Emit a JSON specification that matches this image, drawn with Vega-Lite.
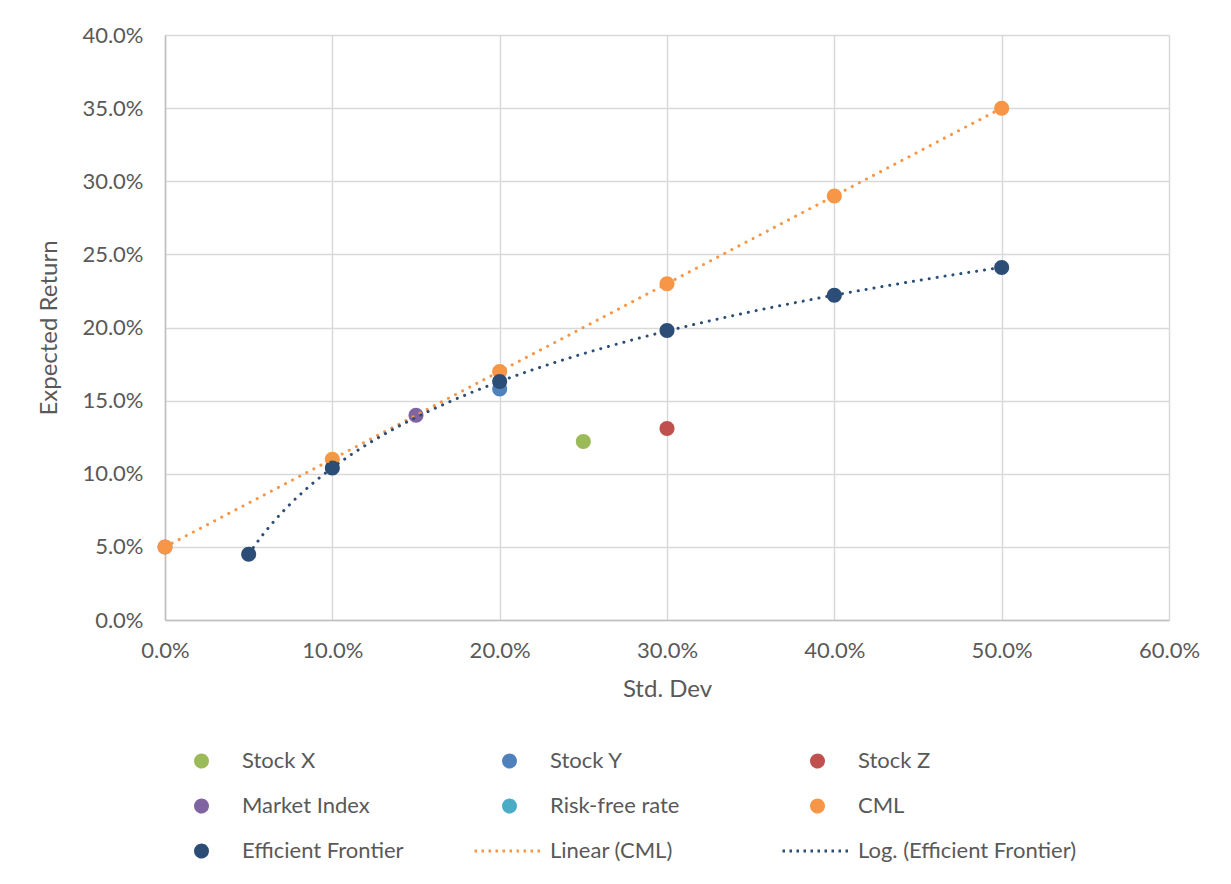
{
  "$schema": "https://vega.github.io/schema/vega-lite/v6.json",
  "autosize": {"type": "none"},
  "padding": {"left": 165, "top": 35, "right": 62, "bottom": 264},
  "width": 1004,
  "height": 585,
  "background": "white",
  "config": {
    "font": "Lato",
    "view": {"stroke": null},
    "axis": {
      "labelFont": "Lato", "labelFontSize": 22, "labelColor": "#595959",
      "titleFont": "Lato", "titleFontSize": 24, "titleColor": "#595959", "titleFontWeight": "normal",
      "gridColor": "#D9D9D9", "gridWidth": 1.5, "ticks": false,
      "domainColor": "#BFBFBF", "domainWidth": 1.5
    },
    "legend": {
      "labelFont": "Lato", "labelFontSize": 22, "labelColor": "#595959", "labelLimit": 500
    }
  },
  "data": {
    "values": [
      {"series": "Stock X", "x": 0.25, "y": 0.122},
      {"series": "Stock Y", "x": 0.20, "y": 0.158},
      {"series": "Stock Z", "x": 0.30, "y": 0.131},
      {"series": "Market Index", "x": 0.15, "y": 0.14},
      {"series": "Risk-free rate", "x": 0.0, "y": 0.05},
      {"series": "CML", "x": 0.0, "y": 0.05},
      {"series": "CML", "x": 0.1, "y": 0.11},
      {"series": "CML", "x": 0.2, "y": 0.17},
      {"series": "CML", "x": 0.3, "y": 0.23},
      {"series": "CML", "x": 0.4, "y": 0.29},
      {"series": "CML", "x": 0.5, "y": 0.35},
      {"series": "Efficient Frontier", "x": 0.05, "y": 0.045},
      {"series": "Efficient Frontier", "x": 0.1, "y": 0.104},
      {"series": "Efficient Frontier", "x": 0.2, "y": 0.163},
      {"series": "Efficient Frontier", "x": 0.3, "y": 0.198},
      {"series": "Efficient Frontier", "x": 0.4, "y": 0.222},
      {"series": "Efficient Frontier", "x": 0.5, "y": 0.241}
    ]
  },
  "encoding": {
    "x": {
      "field": "x", "type": "quantitative",
      "scale": {"domain": [0, 0.6], "nice": false, "zero": false},
      "axis": {"title": "Std. Dev", "format": ".1%", "values": [0, 0.1, 0.2, 0.3, 0.4, 0.5, 0.6], "labelPadding": 20, "titlePadding": 16, "labelFlush": false}
    },
    "y": {
      "field": "y", "type": "quantitative",
      "scale": {"domain": [0, 0.4], "nice": false, "zero": false},
      "axis": {"title": "Expected Return", "format": ".1%", "values": [0, 0.05, 0.1, 0.15, 0.2, 0.25, 0.3, 0.35, 0.4], "labelPadding": 22, "titlePadding": 20, "domain": true}
    }
  },
  "layer": [
    {
      "mark": {"type": "point", "filled": true, "size": 7785, "opacity": 1},
      "encoding": {
        "color": {
          "field": "series", "type": "nominal",
          "scale": {
            "domain": ["Stock X", "Stock Y", "Stock Z", "Market Index", "Risk-free rate", "CML", "Efficient Frontier", "Linear (CML)", "Log. (Efficient Frontier)"],
            "range": ["#9BBB59", "#4F81BD", "#C0504D", "#8064A2", "#4BACC6", "#F79646", "#2C4D75", "#F79646", "#2C4D75"]
          },
          "legend": {
            "title": null,
            "orient": "none",
            "direction": "horizontal",
            "legendX": 0,
            "legendY": 713,
            "columns": 3,
            "gridAlign": "all",
            "columnPadding": 12,
            "rowPadding": 19,
            "clipHeight": 26,
            "symbolSize": 4900,
            "symbolStrokeWidth": 3,
            "labelOffset": 4,
            "symbolOffset": 0
          }
        },
        "shape": {
          "field": "series", "type": "nominal",
          "scale": {
            "domain": ["Stock X", "Stock Y", "Stock Z", "Market Index", "Risk-free rate", "CML", "Efficient Frontier", "Linear (CML)", "Log. (Efficient Frontier)"],
            "range": ["M0.17,0A0.17,0.17 0 1,1 -0.17,0A0.17,0.17 0 1,1 0.17,0Z", "M0.17,0A0.17,0.17 0 1,1 -0.17,0A0.17,0.17 0 1,1 0.17,0Z", "M0.17,0A0.17,0.17 0 1,1 -0.17,0A0.17,0.17 0 1,1 0.17,0Z", "M0.17,0A0.17,0.17 0 1,1 -0.17,0A0.17,0.17 0 1,1 0.17,0Z", "M0.17,0A0.17,0.17 0 1,1 -0.17,0A0.17,0.17 0 1,1 0.17,0Z", "M0.17,0A0.17,0.17 0 1,1 -0.17,0A0.17,0.17 0 1,1 0.17,0Z", "M0.17,0A0.17,0.17 0 1,1 -0.17,0A0.17,0.17 0 1,1 0.17,0Z", "stroke", "stroke"]
          },
          "legend": {"title": null}
        },
        "strokeDash": {
          "field": "series", "type": "nominal",
          "scale": {
            "domain": ["Stock X", "Stock Y", "Stock Z", "Market Index", "Risk-free rate", "CML", "Efficient Frontier", "Linear (CML)", "Log. (Efficient Frontier)"],
            "range": [[1, 0], [1, 0], [1, 0], [1, 0], [1, 0], [1, 0], [1, 0], [2.5, 4.5], [2.5, 4.5]]
          },
          "legend": {"title": null}
        }
      }
    },
    {
      "transform": [
        {"filter": "datum.series === 'CML'"},
        {"regression": "y", "on": "x", "method": "linear"}
      ],
      "mark": {"type": "line", "strokeWidth": 3, "strokeDash": [0.1, 7.9], "strokeCap": "round"},
      "encoding": {
        "color": {"datum": "Linear (CML)", "legend": {"title": null}}
      }
    },
    {
      "transform": [
        {"filter": "datum.series === 'Efficient Frontier'"},
        {"regression": "y", "on": "x", "method": "log"}
      ],
      "mark": {"type": "line", "strokeWidth": 3, "strokeDash": [0.1, 7.9], "strokeCap": "round"},
      "encoding": {
        "color": {"datum": "Log. (Efficient Frontier)", "legend": {"title": null}}
      }
    }
  ]
}
